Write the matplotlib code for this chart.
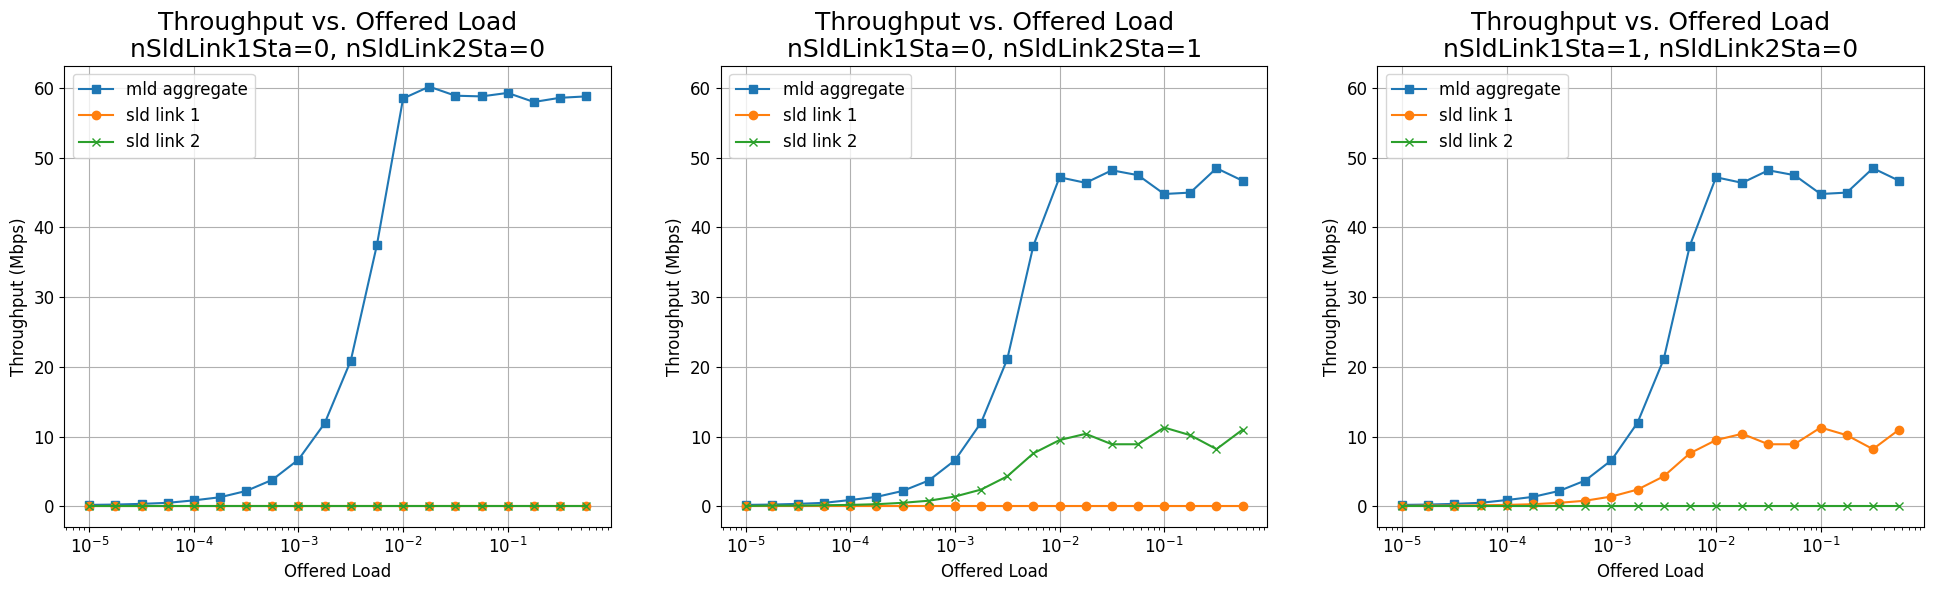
import numpy as np
import matplotlib
matplotlib.use('Agg')
import matplotlib.pyplot as plt

# offered load points (4 per decade)
load = [1e-5, 1.778e-5, 3.162e-5, 5.623e-5,
        1e-4, 1.778e-4, 3.162e-4, 5.623e-4,
        1e-3, 1.778e-3, 3.162e-3, 5.623e-3,
        1e-2, 1.778e-2, 3.162e-2, 5.623e-2,
        1e-1, 1.778e-1, 3.162e-1, 5.623e-1]

# panel 1: nSldLink1Sta=0, nSldLink2Sta=0
mld_00 = [0.2, 0.25, 0.35, 0.5, 0.85, 1.3, 2.2, 3.8, 6.7, 11.9,
          20.9, 37.5, 58.5, 60.2, 58.9, 58.8, 59.3, 58.0, 58.6, 58.8]
sld1_00 = [0.0] * 20
sld2_00 = [0.0] * 20

# panel 2: nSldLink1Sta=0, nSldLink2Sta=1
mld_01 = [0.2, 0.25, 0.35, 0.5, 0.9, 1.35, 2.2, 3.7, 6.6, 12.0,
          21.1, 37.4, 47.2, 46.4, 48.2, 47.5, 44.8, 45.0, 48.5, 46.7]
sld1_01 = [0.0] * 20
sld2_01 = [0.05, 0.1, 0.1, 0.15, 0.2, 0.3, 0.5, 0.8, 1.4, 2.4,
           4.3, 7.6, 9.5, 10.4, 8.9, 8.9, 11.3, 10.2, 8.2, 11.0]

# panel 3: nSldLink1Sta=1, nSldLink2Sta=0
mld_10 = [0.2, 0.25, 0.35, 0.5, 0.9, 1.35, 2.2, 3.7, 6.6, 12.0,
          21.1, 37.4, 47.2, 46.4, 48.2, 47.5, 44.8, 45.0, 48.5, 46.7]
sld1_10 = [0.05, 0.1, 0.1, 0.15, 0.2, 0.3, 0.5, 0.8, 1.4, 2.4,
           4.3, 7.6, 9.5, 10.4, 8.9, 8.9, 11.3, 10.2, 8.2, 11.0]
sld2_10 = [0.0] * 20

panels = [(0, 0, mld_00, sld1_00, sld2_00),
          (0, 1, mld_01, sld1_01, sld2_01),
          (1, 0, mld_10, sld1_10, sld2_10)]

fig, axes = plt.subplots(1, 3, figsize=(19.34, 5.9), dpi=100)
fig.subplots_adjust(left=0.0333, right=0.9948, bottom=0.1063, top=0.8886, wspace=0.201)

for ax, (n1, n2, mld, s1, s2) in zip(axes, panels):
    ax.plot(load, mld, marker='s', label='mld aggregate')
    ax.plot(load, s1, marker='o', label='sld link 1')
    ax.plot(load, s2, marker='x', label='sld link 2')
    ax.set_xscale('log')
    ax.set_ylim(-3.01, 63.2)
    ax.set_xlabel('Offered Load', fontsize=12)
    ax.set_ylabel('Throughput (Mbps)', fontsize=12)
    ax.set_title('Throughput vs. Offered Load\nnSldLink1Sta={}, nSldLink2Sta={}'.format(n1, n2), fontsize=18)
    ax.tick_params(labelsize=12)
    ax.grid(True)
    ax.legend(fontsize=12, loc='upper left')

plt.savefig('out.png')
